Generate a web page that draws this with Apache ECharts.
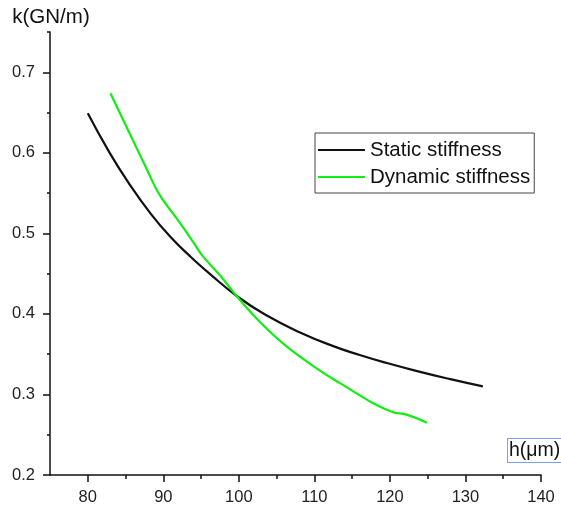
<!DOCTYPE html>
<html>
<head>
<meta charset="utf-8">
<script src="https://cdn.jsdelivr.net/npm/echarts@6/dist/echarts.min.js"></script>
<style>html,body{margin:0;padding:0;background:#fff;}#c{width:561px;height:511px;}</style>
</head>
<body>
<div id="c"></div>
<script>
const staticH = [80, 82.9, 85.6, 88.2, 90.9, 93.5, 96, 99.9, 103.7, 108.1, 112.5, 116, 119.6, 123.6, 128, 132.3];
const staticK = [0.649, 0.600, 0.560, 0.526, 0.496, 0.472, 0.451, 0.421, 0.398, 0.377, 0.360, 0.349, 0.339, 0.329, 0.319, 0.310];
const dynamicH = [83, 85.6, 87.8, 89.5, 92.2, 93.9, 95.2, 97.5, 99.9, 102.8, 106.4, 111, 113.4, 117.8, 120.4, 122.2, 124.9];
const dynamicK = [0.674, 0.623, 0.580, 0.548, 0.513, 0.490, 0.472, 0.448, 0.420, 0.390, 0.359, 0.328, 0.314, 0.289, 0.278, 0.275, 0.265];
const xMajor = [80, 90, 100, 110, 120, 130, 140];
const xMinor = [85, 95, 105, 115, 125, 135];
const yMajor = [0.2, 0.3, 0.4, 0.5, 0.6, 0.7];
const yMinor = [0.25, 0.35, 0.45, 0.55, 0.65, 0.75];
const seriesNames = ['Static stiffness', 'Dynamic stiffness'];

const chart = echarts.init(document.getElementById('c'), null, {renderer: 'canvas'});
const font = 'Liberation Sans, Arial, sans-serif';
const zip = (a, b) => a.map((v, i) => [v, b[i]]);
chart.setOption({
  animation: false,
  backgroundColor: '#fff',
  grid: {left: 50, right: 20, top: 32, bottom: 36},
  xAxis: [{
    type: 'value', min: 75, max: 140, position: 'bottom',
    axisLine: {show: true, onZero: false, lineStyle: {color: '#111', width: 1.5}},
    axisTick: {show: true, customValues: xMajor, length: 7, lineStyle: {color: '#111', width: 1.5}},
    axisLabel: {customValues: xMajor, margin: 14, fontSize: 16.5, color: '#222', fontFamily: font},
    splitLine: {show: false}
  }, {
    type: 'value', min: 75, max: 140, position: 'bottom',
    axisLine: {show: false},
    axisTick: {show: true, customValues: xMinor, length: 4, lineStyle: {color: '#111', width: 1.5}},
    axisLabel: {show: false},
    splitLine: {show: false}
  }],
  yAxis: [{
    type: 'value', min: 0.2, max: 0.75, position: 'left',
    name: 'k(GN/m)', nameLocation: 'end', nameGap: 4,
    nameTextStyle: {fontSize: 20.5, color: '#111', fontFamily: font, align: 'center', verticalAlign: 'bottom', padding: [0, 0, 0, 2]},
    axisLine: {show: true, onZero: false, lineStyle: {color: '#111', width: 1.5}},
    axisTick: {show: true, customValues: yMajor, length: 7, lineStyle: {color: '#111', width: 1.5}},
    axisLabel: {customValues: yMajor, margin: 15, fontSize: 16.5, color: '#222', fontFamily: font},
    splitLine: {show: false}
  }, {
    type: 'value', min: 0.2, max: 0.75, position: 'left',
    axisLine: {show: false},
    axisTick: {show: true, customValues: yMinor, length: 3, lineStyle: {color: '#111', width: 1.5}},
    axisLabel: {show: false},
    splitLine: {show: false}
  }],
  legend: {
    orient: 'vertical', left: 315, top: 133,
    padding: [6, 4, 5, 3], itemGap: 5, itemWidth: 47, itemHeight: 14,
    borderColor: '#444', borderWidth: 1,
    textStyle: {fontSize: 20.5, lineHeight: 22, color: '#111', fontFamily: font},
    icon: 'path://M0,6 L47,6 L47,8 L0,8 Z',
    data: seriesNames
  },
  graphic: [{
    type: 'text', left: 507, top: 438,
    style: {
      text: 'h(μm)', font: '19.5px ' + font, fill: '#111',
      borderColor: '#7f9cf5', borderWidth: 1, padding: [2, 1, 1, 1], backgroundColor: '#fff'
    }
  }],
  series: [{
    name: seriesNames[0], type: 'line', smooth: 0.5, showSymbol: false,
    xAxisIndex: 0, yAxisIndex: 0,
    lineStyle: {color: '#111', width: 2.2}, itemStyle: {color: '#111'},
    data: zip(staticH, staticK)
  }, {
    name: seriesNames[1], type: 'line', smooth: 0.4, showSymbol: false,
    xAxisIndex: 0, yAxisIndex: 0,
    lineStyle: {color: '#11ee11', width: 2.2}, itemStyle: {color: '#11ee11'},
    data: zip(dynamicH, dynamicK)
  }]
});
</script>
</body>
</html>
